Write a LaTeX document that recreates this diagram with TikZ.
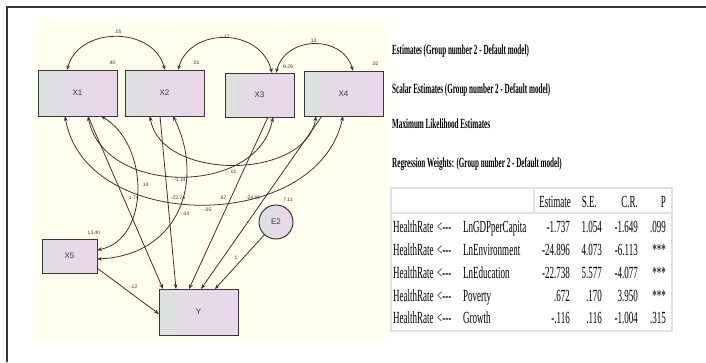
\documentclass[tikz,border=0pt]{standalone}
\usepackage{fontspec}
\setmainfont{Liberation Serif}
\newfontfamily\amosfont{Liberation Sans}
\newfontfamily\headfont[FakeStretch=0.51]{Liberation Serif}
\newfontfamily\tabfont[FakeStretch=0.53]{Liberation Serif}
\usetikzlibrary{arrows.meta}
\definecolor{boxl}{RGB}{220,225,223}
\definecolor{boxr}{RGB}{236,214,236}
\definecolor{paper}{RGB}{255,255,240}
\definecolor{edge}{RGB}{55,55,55}
\definecolor{rule}{RGB}{226,226,226}

\begin{document}
\begin{tikzpicture}[x=1pt, y=-1pt,
    var/.style = {draw=edge, line width=1pt, left color=boxl, right color=boxr, inner sep=0pt, outer sep=0pt, text=edge, font=\amosfont\fontsize{8}{9}\selectfont},
    err/.style = {var, circle, minimum size=34pt},
    num/.style = {inner sep=0pt, text=edge, font=\amosfont\fontsize{5}{6}\selectfont},
    reg/.style = {draw=edge, line width=0.8pt, -{Stealth[length=5pt, width=3.8pt]}},
    cov/.style = {draw=edge, line width=0.8pt, {Stealth[length=5pt, width=3.8pt]}-{Stealth[length=5pt, width=3.8pt]}},
    head/.style = {inner sep=0pt, anchor=base west, font=\headfont\bfseries\fontsize{14}{16}\selectfont},
    cell/.style = {inner sep=0pt, font=\tabfont\fontsize{17}{19}\selectfont}]

    \useasboundingbox (0,0) rectangle (706,362);
    \fill[paper] (33,18) rectangle (385,343);
    \draw[edge, line width=1.5pt] (7,362) -- (7,7) -- (706,7);

    % path diagram
    \node[var, minimum width=79pt, minimum height=46pt] (X1) at (77.5,93)   {X1};
    \node[var, minimum width=79pt, minimum height=46pt] (X2) at (164.5,93)  {X2};
    \node[var, minimum width=69pt, minimum height=44pt] (X3) at (259.5,95)  {X3};
    \node[var, minimum width=79pt, minimum height=45pt] (X4) at (343.5,93.5) {X4};
    \node[var, minimum width=55pt, minimum height=34pt] (X5) at (69.5,256)  {X5};
    \node[var, minimum width=79pt, minimum height=46pt] (Y)  at (198.5,312) {Y};
    \node[err] (E2) at (276,222) {E2};

    \node[num] (varX1) at (112,63)  {.40};
    \node[num] (varX2) at (196,63)  {.01};
    \node[num] (varX3) at (288,67)  {9.29};
    \node[num] (varX4) at (375,64)  {.02};
    \node[num] (varX5) at (94,233)  {13.40};
    \node[num] (varE2) at (288,200) {7.11};

    % covariances
    \draw[cov] ([xshift=29pt]X1.north west) .. controls +(12,-44) and +(-12,-44) .. ([xshift=40pt]X2.north west);
    \draw[cov] ([xshift=53pt]X2.north west) .. controls +(12,-43) and +(-12,-46) .. ([xshift=47pt]X3.north west);
    \draw[cov] ([xshift=51pt]X3.north west) .. controls +(10,-38) and +(-10,-36) .. ([xshift=49pt]X4.north west);
    \draw[cov] ([xshift=50pt]X1.south west) .. controls +(15,80) and +(-15,80) .. ([xshift=48pt]X3.south west);
    \draw[cov] ([xshift=25pt]X2.south west) .. controls +(10,65) and +(-10,65) .. ([xshift=12pt]X4.south west);
    \draw[cov] ([xshift=27pt]X1.south west) .. controls +(20,118) and +(-25,118) .. ([xshift=39pt]X4.south west);
    \draw[cov] ([xshift=63pt]X1.south west) .. controls +(49,29) and +(53,-10) .. ([yshift=6pt]X5.east);
    \draw[cov] ([xshift=48pt]X2.south west) .. controls +(32,64) and +(83,-4) .. ([yshift=-3pt]X5.east);

    \node[num] (c12) at (118,32)  {.05};
    \node[num] (c23) at (225,37)  {-.17};
    \node[num] (c34) at (313,41)  {.13};
    \node[num] (c13) at (180,180) {-1.14};
    \node[num] (c24) at (232,172) {-.01};
    \node[num] (c14) at (207,210) {-.05};
    \node[num] (c15) at (145,185) {.14};
    \node[num] (c25) at (185,214) {-.04};

    % regression weights
    \draw[reg] ([xshift=50pt]X1.south west) -- ([xshift=4pt]Y.north west);
    \draw[reg] ([xshift=35pt]X2.south west) -- ([xshift=17pt]Y.north west);
    \draw[reg] ([xshift=43pt]X3.south west) -- ([xshift=30pt]Y.north west);
    \draw[reg] ([xshift=18pt]X4.south west) -- ([xshift=42pt]Y.north west);
    \draw[reg] (E2) -- ([xshift=56pt]Y.north west);
    \draw[reg] ([yshift=-12pt]X5.east) -- ([yshift=-2pt]Y.west);

    \node[num] (b1) at (133,198) {-1.74};
    \node[num] (b2) at (178,198) {-22.74};
    \node[num] (b3) at (223,198) {.67};
    \node[num] (b4) at (253,198) {-24.90};
    \node[num] (b5) at (133,287) {-.12};
    \node[num] (b6) at (236,258) {1};

    % output text
    \node[head] (t1) at (392,54)  {Estimates (Group number 2 - Default model)};
    \node[head] (t2) at (392,93)  {Scalar Estimates (Group number 2 - Default model)};
    \node[head] (t3) at (392,128) {Maximum Likelihood Estimates};
    \node[head] (t4) at (392,167) {Regression Weights: (Group number 2 - Default model)};

    \fill[white] (391,188) rectangle (672,331);
    \draw[rule, line width=1.5pt] (391,188) rectangle (672,331);
    \draw[rule, line width=1.5pt] (391,213) -- (672,213);
    \draw[rule, line width=1.5pt] (534,188) -- (534,213);

    \node[cell, anchor=base east] (hEst) at (571,207.5) {Estimate};
    \node[cell, anchor=base east] (hSE)  at (597,207.5) {S.E.};
    \node[cell, anchor=base east] (hCR)  at (638,207.5) {C.R.};
    \node[cell, anchor=base east] (hP)   at (666,207.5) {P};

    \node[cell, anchor=base west] (y1) at (393,232.5) {HealthRate}; \node[cell, anchor=base west] (a1) at (437,232.5) {<-{}-{}-}; \node[cell, anchor=base west] (x1) at (463,232.5) {LnGDPperCapita};
    \node[cell, anchor=base east] (e1) at (570,232.5) {-1.737};  \node[cell, anchor=base east] (s1) at (602,232.5) {1.054}; \node[cell, anchor=base east] (r1) at (638,232.5) {-1.649}; \node[cell, anchor=base east] (p1) at (666,232.5) {.099};
    \node[cell, anchor=base west] (y2) at (393,255.5) {HealthRate}; \node[cell, anchor=base west] (a2) at (437,255.5) {<-{}-{}-}; \node[cell, anchor=base west] (x2) at (463,255.5) {LnEnvironment};
    \node[cell, anchor=base east] (e2) at (570,255.5) {-24.896}; \node[cell, anchor=base east] (s2) at (602,255.5) {4.073}; \node[cell, anchor=base east] (r2) at (638,255.5) {-6.113}; \node[cell, anchor=base east] (p2) at (666,255.5) {***};
    \node[cell, anchor=base west] (y3) at (393,278) {HealthRate}; \node[cell, anchor=base west] (a3) at (437,278) {<-{}-{}-}; \node[cell, anchor=base west] (x3) at (463,278) {LnEducation};
    \node[cell, anchor=base east] (e3) at (570,278) {-22.738}; \node[cell, anchor=base east] (s3) at (602,278) {5.577}; \node[cell, anchor=base east] (r3) at (638,278) {-4.077}; \node[cell, anchor=base east] (p3) at (666,278) {***};
    \node[cell, anchor=base west] (y4) at (393,301.5) {HealthRate}; \node[cell, anchor=base west] (a4) at (437,301.5) {<-{}-{}-}; \node[cell, anchor=base west] (x4) at (463,301.5) {Poverty};
    \node[cell, anchor=base east] (e4) at (570,301.5) {.672}; \node[cell, anchor=base east] (s4) at (602,301.5) {.170}; \node[cell, anchor=base east] (r4) at (638,301.5) {3.950}; \node[cell, anchor=base east] (p4) at (666,301.5) {***};
    \node[cell, anchor=base west] (y5) at (393,323) {HealthRate}; \node[cell, anchor=base west] (a5) at (437,323) {<-{}-{}-}; \node[cell, anchor=base west] (x5) at (463,323) {Growth};
    \node[cell, anchor=base east] (e5) at (570,323) {-.116}; \node[cell, anchor=base east] (s5) at (602,323) {.116}; \node[cell, anchor=base east] (r5) at (638,323) {-1.004}; \node[cell, anchor=base east] (p5) at (666,323) {.315};
\end{tikzpicture}
\end{document}
